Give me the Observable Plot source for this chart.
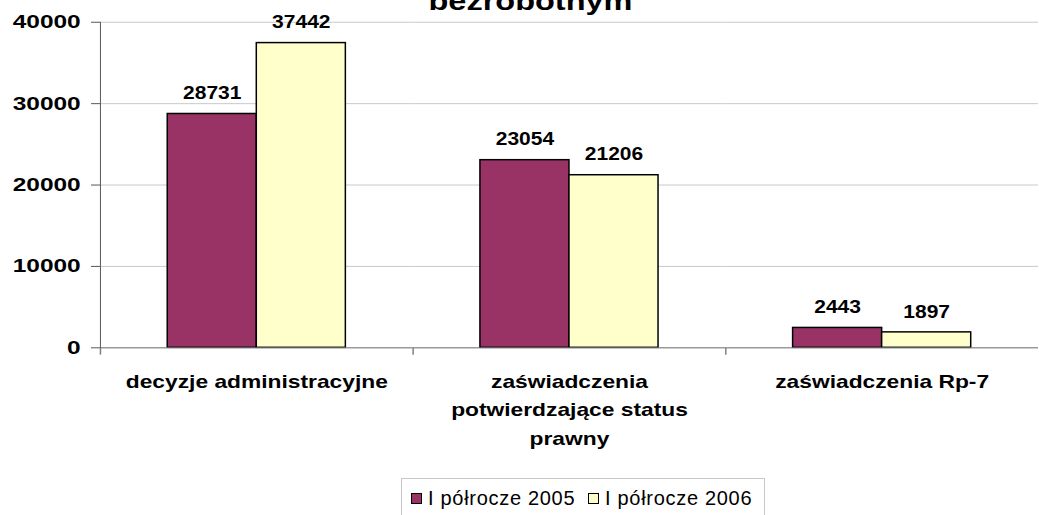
<!DOCTYPE html>
<html>
<head>
<meta charset="utf-8">
<script src="https://cdn.jsdelivr.net/npm/d3@7"></script>
<script src="https://cdn.jsdelivr.net/npm/@observablehq/plot@0.6"></script>
<style>
  html, body { margin: 0; padding: 0; background: #fff; }
  body { width: 1039px; height: 515px; overflow: hidden; position: relative; font-family: "Liberation Sans", Arial, sans-serif; }
  #title { position: absolute; left: 0; width: 1060px; top: -14px; text-align: center; font-weight: bold; font-size: 25px; line-height: 30px; color: #000; }
  #title span { display: inline-block; transform: scaleX(1.3); }
  #chart { position: absolute; left: 0; top: 0; }
  #chart svg { overflow: visible; }
  #legend { position: absolute; left: 401px; top: 478px; width: 364px; height: 40px; border: 1px solid #c8c8c8; box-sizing: border-box; font-size: 20px; letter-spacing: 0.7px; color: #000; }
  #legend .item { position: absolute; top: 7px; white-space: nowrap; line-height: 24px; }
  #legend .sw { display: inline-block; width: 9px; height: 9px; border: 1px solid #000; margin-right: 6px; vertical-align: 1px; }
</style>
</head>
<body>
<div id="title"><span>bezrobotnym</span></div>
<div id="chart"></div>
<div id="legend"></div>
<script>
const categories = ["decyzje administracyjne", "zaświadczenia potwierdzające status prawny", "zaświadczenia Rp-7"];
const categoryLabels = ["decyzje administracyjne", "zaświadczenia\npotwierdzające status\nprawny", "zaświadczenia Rp-7"];
const series = ["I półrocze 2005", "I półrocze 2006"];
const values2005 = [28731, 23054, 2443];
const values2006 = [37442, 21206, 1897];
const yTicks = [0, 10000, 20000, 30000, 40000];
const colors = ["#993366", "#FFFFCC"];

const data = categories.flatMap((c, i) => [
  {category: c, series: series[0], value: values2005[i]},
  {category: c, series: series[1], value: values2006[i]}
]);

const tickSymbol = {draw(context) { context.moveTo(0, 0); context.lineTo(0, 7); }};

const chart = Plot.plot({
  width: 1050,
  height: 470,
  marginLeft: 100,
  marginRight: 0,
  marginTop: 22,
  marginBottom: 119,
  style: {fontFamily: "'Liberation Sans', Arial, sans-serif", background: "transparent", color: "#000"},
  fx: {domain: categories, padding: 0, axis: null},
  x: {domain: series, paddingInner: 0, paddingOuter: 0.742, axis: null},
  y: {domain: [0, 40000], axis: null},
  color: {domain: series, range: colors},
  marks: [
    Plot.gridY(yTicks, {stroke: "#c8c8c8", strokeOpacity: 1}),
    Plot.barY(data, {fx: "category", x: "series", y: "value", fill: "series", stroke: "#000", strokeWidth: 1.5}),
    Plot.text(data, {fx: "category", x: "series", y: "value", text: d => String(d.value), lineAnchor: "bottom", dy: -15, fontSize: 18, fontWeight: "bold", fill: "#000"}),
    Plot.ruleY([0], {stroke: "#808080", strokeWidth: 1}),
    Plot.axisY({ticks: yTicks, tickSize: 9, tickPadding: 11, fontSize: 19, fontWeight: "bold", tickFormat: d => String(d), anchor: "left", label: null, stroke: "#555"}),
    Plot.frame({anchor: "left", facetAnchor: "left", stroke: "#555"}),
    Plot.dot(categories, {fx: d => d, frameAnchor: "bottom-left", symbol: tickSymbol, stroke: "#808080", fill: "none"}),
    Plot.text(categories, {fx: d => d, text: (d, i) => categoryLabels[i], frameAnchor: "bottom", lineAnchor: "top", dy: 20, lineHeight: 1.6, fontSize: 18, fontWeight: "bold", fill: "#000"})
  ]
});

// The reference's lettering is horizontally stretched; emulate that on the text elements.
function stretch(group, s) {
  if (!group) return;
  group.querySelectorAll("text").forEach(t => {
    let tr = t.getAttribute("transform");
    if (!tr) {
      const x = t.getAttribute("x") || 0, y = t.getAttribute("y") || 0;
      t.removeAttribute("x"); t.removeAttribute("y");
      tr = `translate(${x},${y})`;
    }
    t.setAttribute("transform", `${tr} scale(${s},1)`);
  });
}
const textGroups = chart.querySelectorAll('g[aria-label="text"]');
stretch(textGroups[0], 1.18);
stretch(textGroups[1], 1.28);
stretch(chart.querySelector('g[aria-label="y-axis tick label"]'), 1.3);
document.getElementById("chart").appendChild(chart);

const legend = document.getElementById("legend");
const legendLeft = [9, 186];
series.forEach((s, i) => {
  const item = document.createElement("div");
  item.className = "item";
  item.style.left = legendLeft[i] + "px";
  const sw = document.createElement("span");
  sw.className = "sw";
  sw.style.background = colors[i];
  item.appendChild(sw);
  item.appendChild(document.createTextNode(s));
  legend.appendChild(item);
});
</script>
</body>
</html>
